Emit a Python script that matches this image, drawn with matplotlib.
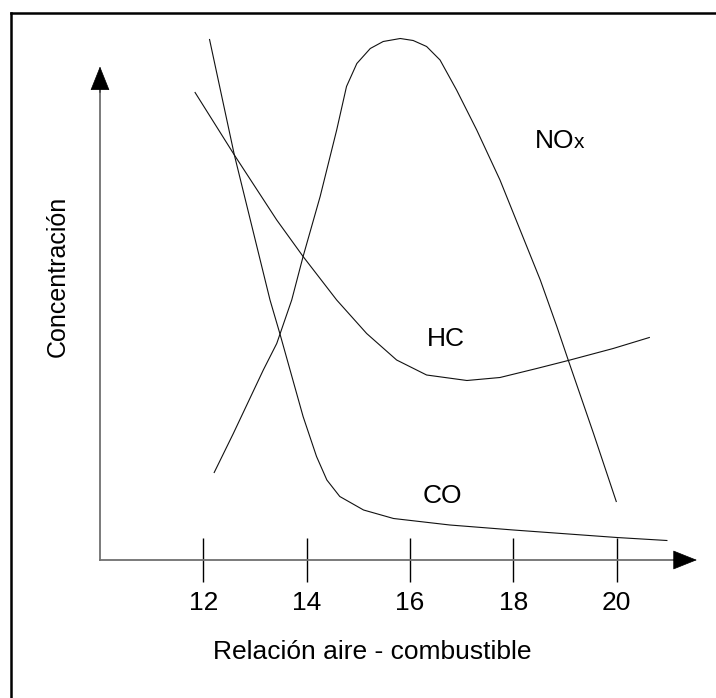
import matplotlib
matplotlib.use("Agg")
import matplotlib.pyplot as plt
from matplotlib.lines import Line2D

plt.rcParams['font.family'] = ['Liberation Sans', 'DejaVu Sans']

# relacion aire-combustible vs concentracion (unidades arbitrarias)
co_x = [12.12, 12.60, 13.29, 13.48, 13.93, 14.19, 14.39, 14.64, 15.10, 15.68, 16.77, 18.00, 20.00, 20.97]
co_y = [104.1, 81.0, 52.0, 45.3, 28.7, 20.7, 16.0, 12.7, 10.0, 8.3, 7.0, 6.0, 4.5, 3.9]

nox_x = [12.21, 12.58, 13.16, 13.42, 13.71, 13.93, 14.26, 14.58, 14.77, 14.97, 15.23, 15.48,
         15.81, 16.06, 16.32, 16.58, 16.90, 17.29, 17.74, 18.13, 18.52, 18.84, 19.06, 19.55, 19.99]
nox_y = [17.5, 25.3, 38.0, 43.3, 52.0, 60.7, 72.7, 86.0, 94.7, 99.3, 102.3, 103.7,
         104.3, 103.9, 102.7, 100.0, 94.0, 86.0, 76.0, 66.0, 56.0, 46.7, 40.0, 25.3, 11.7]

hc_x = [11.84, 12.60, 13.42, 13.93, 14.58, 15.16, 15.74, 16.32, 17.10, 17.74, 18.45, 19.06, 19.93, 20.63]
hc_y = [93.5, 81.0, 68.0, 60.7, 52.0, 45.3, 40.0, 37.0, 35.9, 36.5, 38.3, 39.9, 42.3, 44.5]

ticks = [12, 14, 16, 18, 20]

fig = plt.figure(figsize=(7.16, 6.98), dpi=100)
ax = fig.add_axes([0, 0, 1, 1])
ax.set_xlim(8.065, 21.92)
ax.set_ylim(-27.6, 112)

for xs, ys in [(co_x, co_y), (nox_x, nox_y), (hc_x, hc_y)]:
    ax.plot(xs, ys, color='#111111', lw=0.8)

# ejes con flechas
for s in ['top', 'right']:
    ax.spines[s].set_visible(False)
ax.spines['bottom'].set_position(('data', 0))
ax.spines['bottom'].set_bounds(10, 21.2)
ax.spines['left'].set_position(('data', 10))
ax.spines['left'].set_bounds(0, 95)
for s in ['bottom', 'left']:
    ax.spines[s].set_color('#707070')
    ax.spines[s].set_linewidth(1.3)

ax.annotate('', xy=(21.55, 0), xytext=(21.1, 0),
            arrowprops=dict(arrowstyle='-|>,head_length=1.0,head_width=0.4',
                            mutation_scale=16, color='black', lw=0.5,
                            shrinkA=0, shrinkB=0))
ax.annotate('', xy=(10, 98.7), xytext=(10, 93.5),
            arrowprops=dict(arrowstyle='-|>,head_length=1.0,head_width=0.4',
                            mutation_scale=16, color='black', lw=0.5,
                            shrinkA=0, shrinkB=0))

ax.set_xticks(ticks)
ax.set_xticklabels([str(t) for t in ticks])
ax.set_yticks([])
ax.tick_params(axis='x', direction='inout', length=31, width=1, color='black',
               labelsize=19, pad=7)

ax.text(12.19, -19.8, 'Relación aire - combustible', fontsize=19, ha='left', va='baseline')
ax.text(9.18, 56.7, 'Concentración', fontsize=18, rotation=90, ha='center', va='center')

ax.text(16.32, 42.7, 'HC', fontsize=19, ha='left', va='baseline')
ax.text(16.25, 11.4, 'CO', fontsize=19, ha='left', va='baseline')
ax.text(18.42, 82.4, 'NO', fontsize=19, ha='left', va='baseline')
ax.text(19.16, 82.4, 'x', fontsize=15, ha='left', va='baseline')

# marco (solo arriba e izquierda visibles)
fig.add_artist(Line2D([0.0149, 1.0], [0.9811, 0.9811], color='black', lw=1.8))
fig.add_artist(Line2D([0.0149, 0.0149], [0.0, 0.9811], color='black', lw=1.8))

fig.savefig('out.png', dpi=100)
